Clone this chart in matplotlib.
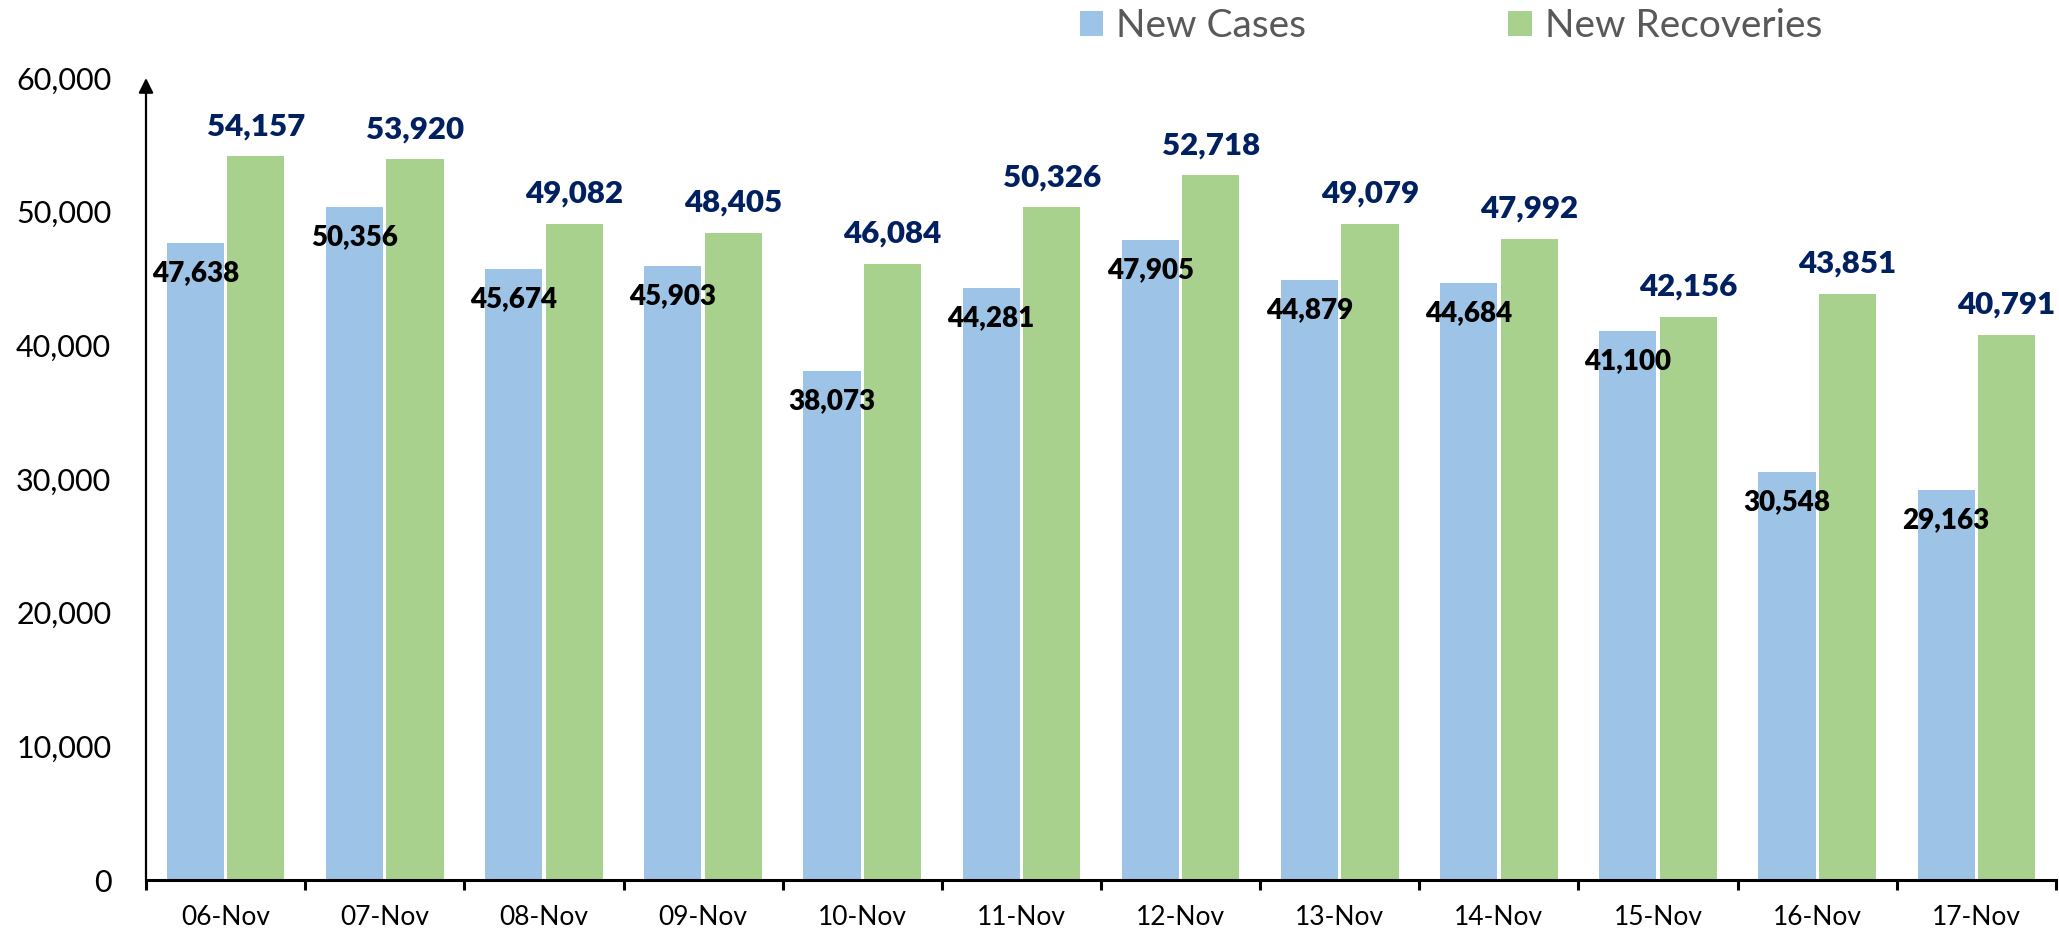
import matplotlib
matplotlib.use('Agg')
import matplotlib.pyplot as plt
import numpy as np

plt.rcParams['font.family'] = ['Lato', 'DejaVu Sans']

dates = ['06-Nov', '07-Nov', '08-Nov', '09-Nov', '10-Nov', '11-Nov',
         '12-Nov', '13-Nov', '14-Nov', '15-Nov', '16-Nov', '17-Nov']
new_cases = [47638, 50356, 45674, 45903, 38073, 44281,
             47905, 44879, 44684, 41100, 30548, 29163]
new_recoveries = [54157, 53920, 49082, 48405, 46084, 50326,
                  52718, 49079, 47992, 42156, 43851, 40791]
y_ticks = [0, 10000, 20000, 30000, 40000, 50000, 60000]

BLUE = '#9DC3E6'
GREEN = '#A9D18E'
NAVY = '#002060'

fig = plt.figure(figsize=(20.59, 9.35), dpi=100, facecolor='white')
ax = fig.add_axes([146 / 2059, 55 / 935, 1910 / 2059, 802 / 935])

x = np.arange(len(dates))
w = 0.36
b1 = ax.bar(x - 0.19, new_cases, width=w, color=BLUE, label='New Cases')
b2 = ax.bar(x + 0.19, new_recoveries, width=w, color=GREEN, label='New Recoveries')

# value labels: cases just under the top, recoveries above
for xi, v in zip(x, new_cases):
    ax.annotate(f'{v:,}', (xi - 0.19, v), xytext=(0, -21.6), textcoords='offset points',
                ha='center', va='center', fontsize=20, fontweight='heavy', color='black')
for xi, v in zip(x, new_recoveries):
    ax.annotate(f'{v:,}', (xi + 0.19, v), xytext=(0, 21.6), textcoords='offset points',
                ha='center', va='center', fontsize=22.5, fontweight='heavy', color=NAVY)

ax.set_xlim(-0.5, len(dates) - 0.5)
ax.set_ylim(0, 60000)

# y axis
ax.set_yticks(y_ticks)
ax.set_yticklabels([f'{t:,}' for t in y_ticks])
ax.tick_params(axis='y', length=0, pad=25, labelsize=22, labelcolor='black')

# x axis: ticks at group boundaries, labels at centres
ax.set_xticks(np.arange(-0.5, len(dates), 1.0))
ax.set_xticklabels([])
ax.set_xticks(x, minor=True)
ax.set_xticklabels(dates, minor=True)
ax.tick_params(axis='x', which='major', length=7, width=2.2, direction='out', color='black')
ax.tick_params(axis='x', which='minor', length=0, pad=18, labelsize=19)

for s in ['top', 'right', 'left']:
    ax.spines[s].set_visible(False)
ax.spines['bottom'].set_linewidth(2.2)

ax.annotate('', xy=(0, 1.0), xytext=(0, 0), xycoords='axes fraction',
            arrowprops=dict(arrowstyle='-|>', lw=1.6, color='black', mutation_scale=22,
                            shrinkA=0, shrinkB=0), annotation_clip=False)

leg = fig.legend(handles=[b1, b2], loc='upper left', bbox_to_anchor=(1080 / 2059, 1 - 8 / 935),
                 ncol=2, frameon=False, fontsize=28, handlelength=0.6, handleheight=0.6,
                 handletextpad=0.33, columnspacing=5.2, borderpad=0, borderaxespad=0)
for t in leg.get_texts():
    t.set_color('#595959')

fig.savefig('out.png', dpi=100, facecolor='white')
